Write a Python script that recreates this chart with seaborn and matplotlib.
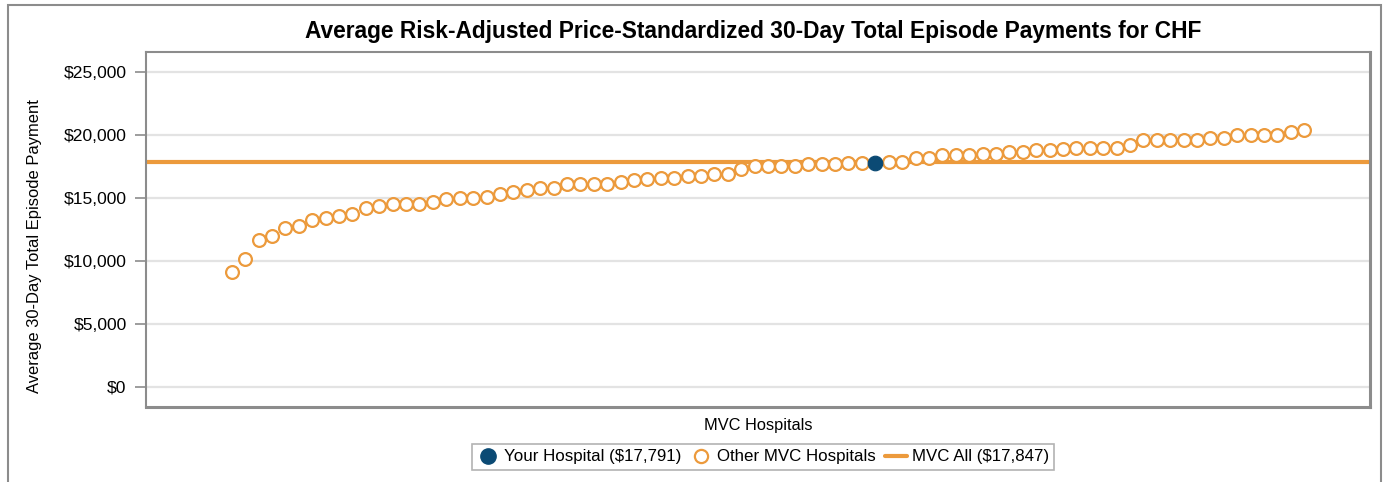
import pandas as pd
import matplotlib.pyplot as plt
import matplotlib.patches as patches
from matplotlib.lines import Line2D
from matplotlib.ticker import FuncFormatter
import seaborn as sns

# sorted hospital payments
other_payments = [
    9130, 10140, 11665, 11980, 12590, 12775, 13250, 13385, 13540, 13700,
    14200, 14360, 14550, 14550, 14550, 14675,
    14945, 14965, 14965, 15100, 15285, 15500, 15625, 15760, 15760, 16075,
    16075, 16075, 16075, 16290, 16470, 16550,
    16560, 16570, 16735, 16735, 16870, 16920, 17345, 17525, 17525, 17525,
    17525, 17715, 17715, 17715, 17760, 17780,
    17850, 17870, 18190, 18190, 18400, 18420, 18430, 18530, 18530, 18665,
    18665, 18790, 18790, 18925, 18950,
    18980, 18980, 18980, 19245, 19585, 19585, 19585, 19585, 19585, 19775,
    19775, 20035, 20035, 20035, 20035, 20250, 20375,
]
your_index = 48
your_payment = 17791
mvc_all = 17847

others = pd.DataFrame({"rank": [i if i < your_index else i + 1 for i in range(len(other_payments))],
                       "payment": other_payments})
yours = pd.DataFrame({"rank": [your_index], "payment": [your_payment]})

orange = "#EC9A3C"
blue = "#0B4A74"

sns.set_style("white")
plt.rcParams["font.family"] = ["Liberation Sans", "DejaVu Sans"]
plt.rcParams["text.color"] = "black"
plt.rcParams["axes.labelcolor"] = "black"

fig = plt.figure(figsize=(13.89, 4.82), dpi=100)
ax = fig.add_axes([146 / 1389, 1 - 407 / 482, (1370 - 146) / 1389, (407 - 52) / 482])

# outer frame
fig.patches.append(patches.Rectangle((8 / 1389, -0.05), (1381 - 8) / 1389, 1.05 - 5 / 482,
                                     transform=fig.transFigure, fill=False,
                                     edgecolor="#8C8C8C", linewidth=1.5))

ax.axhline(mvc_all, color=orange, linewidth=3, zorder=2)
sns.scatterplot(data=others, x="rank", y="payment", ax=ax, marker="o", s=85,
                facecolor="white", edgecolor=orange, linewidth=1.6, zorder=3)
sns.scatterplot(data=yours, x="rank", y="payment", ax=ax, marker="o", s=110,
                color=blue, edgecolor=blue, zorder=4)

ax.set_xlim(-6.4, 84.9)
ax.set_ylim(-1600, 26600)
ax.set_yticks(range(0, 25001, 5000))
ax.yaxis.set_major_formatter(FuncFormatter(lambda v, p: f"${v:,.0f}"))
ax.set_xticks([])
ax.grid(axis="y", color="#E3E3E3", linewidth=1.6)
ax.set_axisbelow(True)
ax.tick_params(axis="y", left=True, length=8, width=1.2, color="#8C8C8C",
               labelcolor="black", labelsize=12.6, pad=6)
for s in ax.spines.values():
    s.set_color("#8C8C8C")
    s.set_linewidth(1.5)
ax.spines["bottom"].set_linewidth(2.2)
ax.spines["right"].set_linewidth(2.2)

ax.set_xlabel("MVC Hospitals", fontsize=11.8, labelpad=8)
ax.set_ylabel("Average 30-Day Total Episode Payment", fontsize=11.9)
ax.yaxis.set_label_coords(-0.085, 0.453)
fig.text(753 / 1389, 0.935, "Average Risk-Adjusted Price-Standardized 30-Day Total Episode Payments for CHF",
         ha="center", va="center", fontsize=16.4, fontweight="bold")

handles = [
    Line2D([], [], marker="o", linestyle="none", markersize=11, color=blue),
    Line2D([], [], marker="o", linestyle="none", markersize=9.5, markerfacecolor="white",
           markeredgecolor=orange, markeredgewidth=1.6),
    Line2D([], [], color=orange, linewidth=3),
]
labels = ["Your Hospital ($17,791)", "Other MVC Hospitals", "MVC All ($17,847)"]
leg = fig.legend(handles, labels, loc="center", bbox_to_anchor=(763 / 1389, 1 - 457 / 482),
                 ncol=3, fontsize=12.2, frameon=True, fancybox=False, handlelength=1.3,
                 handletextpad=0.3, columnspacing=0.5, borderpad=0.3, borderaxespad=0.2)
leg.get_frame().set_edgecolor("#A0A0A0")
leg.get_frame().set_linewidth(1.2)

plt.savefig("out.png", dpi=100)
